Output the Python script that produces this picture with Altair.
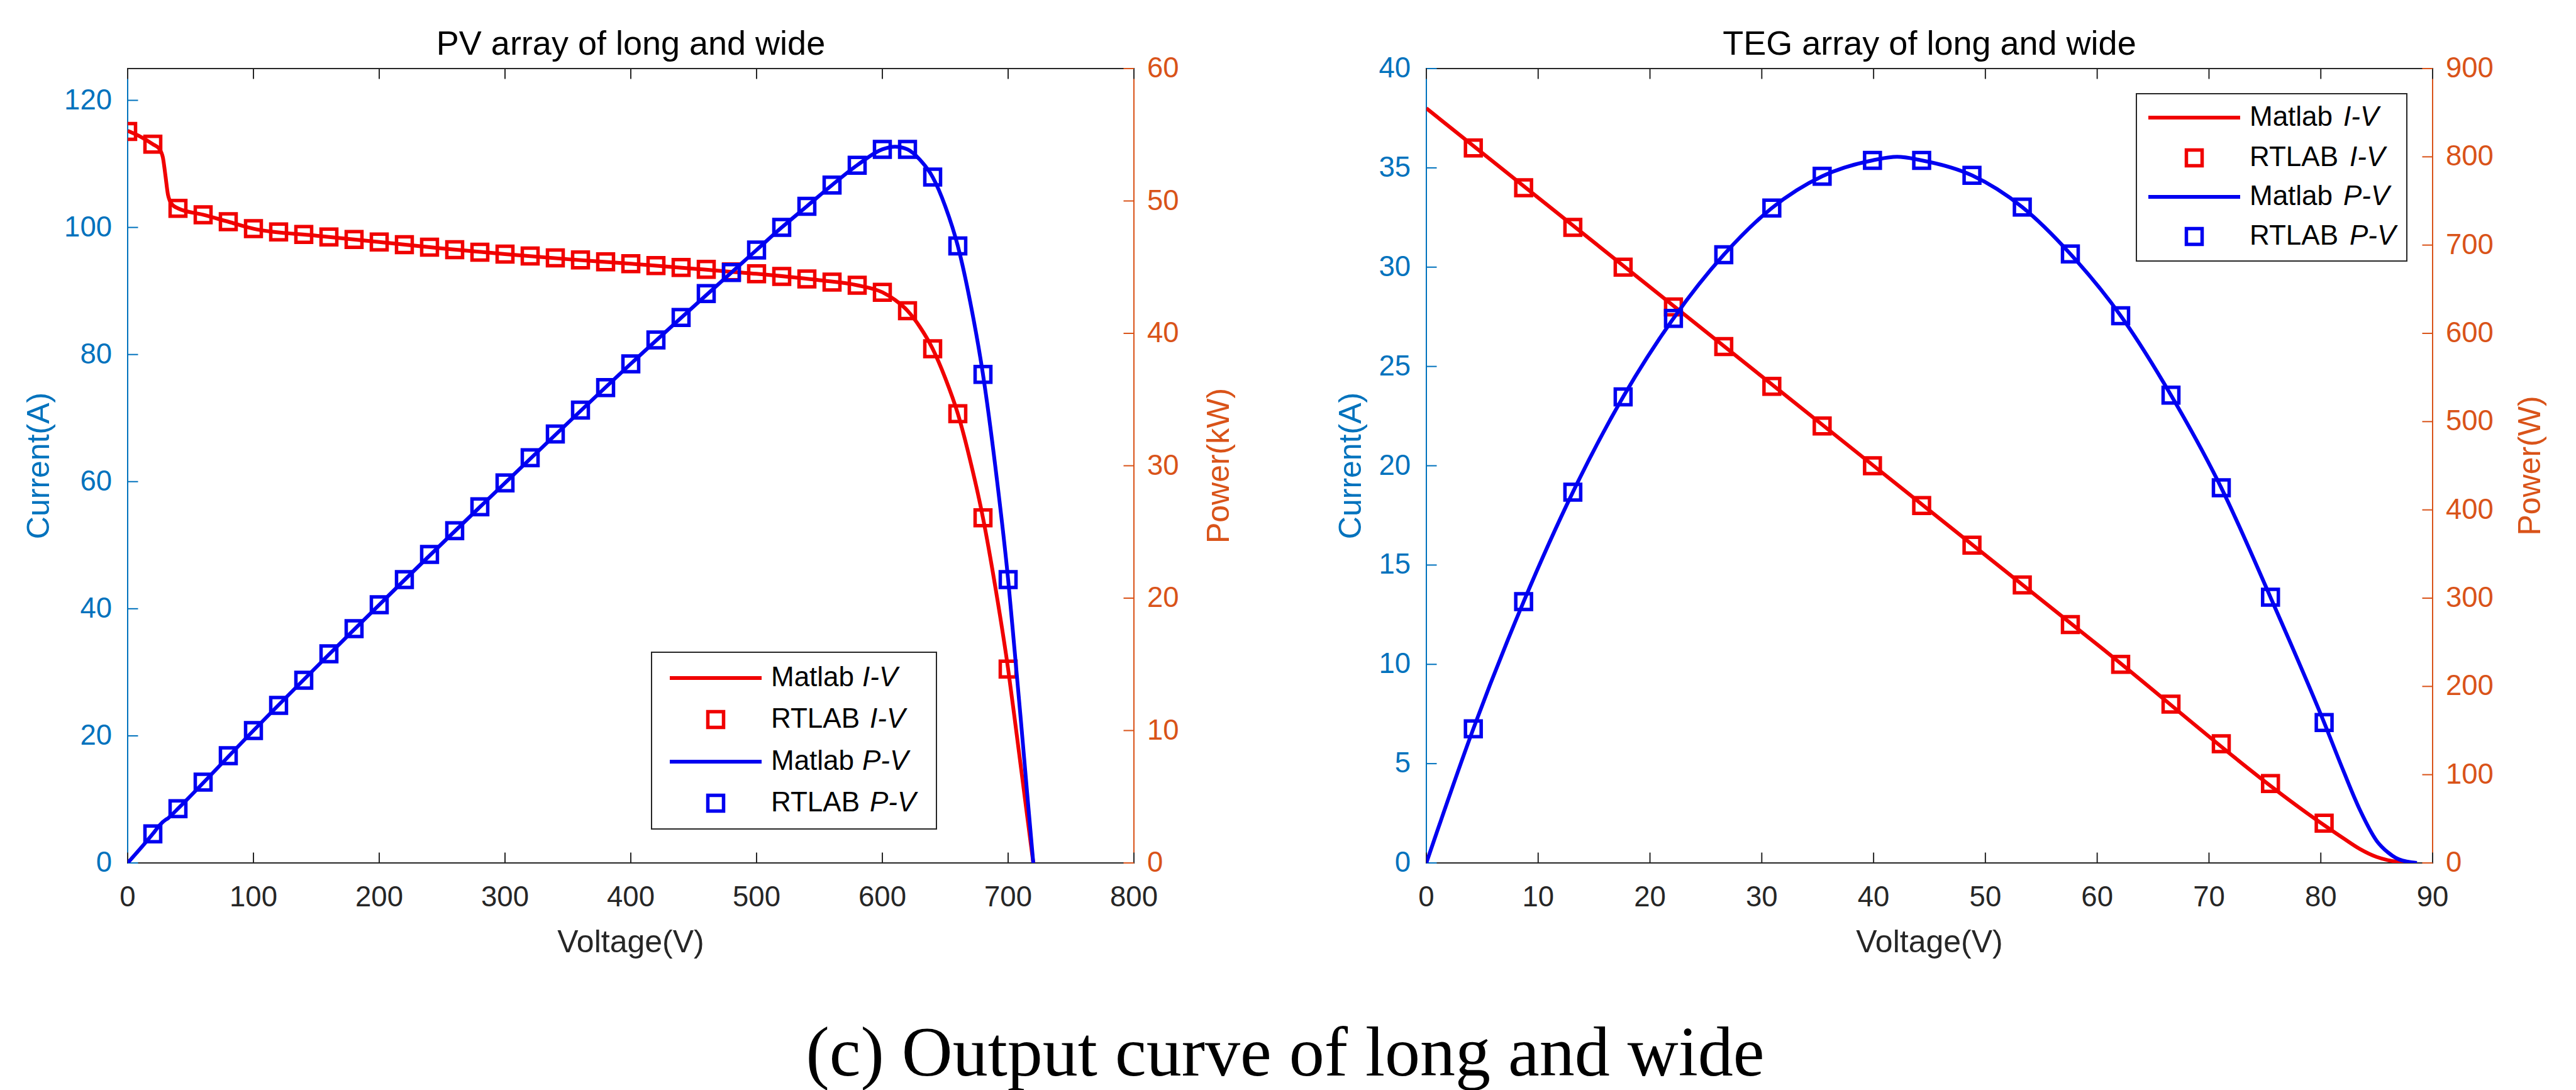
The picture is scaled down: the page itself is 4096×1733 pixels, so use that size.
import altair as alt
import pandas as pd

# ---------------- PV array of long and wide ----------------
# RT-LAB I-V samples
pv_iv_pts_v = [0, 20, 40, 60, 80, 100, 120, 140, 160, 180, 200, 220, 240, 260, 280, 300, 320, 340,
               360, 380, 400, 420, 440, 460, 480, 500, 520, 540, 560, 580, 600, 620, 640, 660, 680, 700]
pv_iv_pts_i = [115.1, 113.1, 103.0, 102.0, 100.9, 99.8, 99.3, 98.9, 98.5, 98.1, 97.7, 97.3, 96.9, 96.5,
               96.1, 95.8, 95.5, 95.2, 94.9, 94.6, 94.3, 94.0, 93.7, 93.4, 93.0, 92.7, 92.3, 91.9, 91.4,
               90.9, 89.8, 86.9, 80.9, 70.7, 54.3, 30.5]
# Matlab I-V curve
pv_iv_line_v = [0, 10, 20, 25, 28, 30, 32, 35, 40, 60, 80, 100, 150, 200, 250, 300, 350, 400, 450, 500,
                550, 580, 600, 610, 620, 630, 640, 650, 660, 670, 680, 690, 700, 705, 710, 715, 720]
pv_iv_line_i = [115.2, 114.3, 113.1, 112.4, 111.0, 108.2, 105.2, 103.7, 103.0, 102.0, 100.9, 99.8, 98.7,
                97.7, 96.7, 95.8, 95.0, 94.3, 93.5, 92.7, 91.7, 90.9, 89.8, 88.6, 86.9, 84.3, 80.9, 76.3,
                70.7, 63.2, 54.3, 43.2, 30.5, 23.0, 15.3, 7.6, 0.0]
# RT-LAB P-V samples (kW)
pv_pv_pts_v = [20, 40, 60, 80, 100, 120, 140, 160, 180, 200, 220, 240, 260, 280, 300, 320, 340, 360,
               380, 400, 420, 440, 460, 480, 500, 520, 540, 560, 580, 600, 620, 640, 660, 680, 700]
pv_pv_pts_p = [2.2, 4.1, 6.1, 8.1, 10.0, 11.9, 13.8, 15.8, 17.7, 19.5, 21.4, 23.3, 25.1, 26.9, 28.7,
               30.6, 32.4, 34.2, 35.9, 37.7, 39.5, 41.2, 43.0, 44.6, 46.3, 48.0, 49.6, 51.2, 52.7, 53.9,
               53.9, 51.8, 46.6, 36.9, 21.4]
# Matlab P-V curve (kW)
pv_pv_line_v = [0, 20, 25, 28, 30, 32, 35, 40, 100, 200, 300, 400, 500, 520, 540, 560, 580, 600, 610,
                620, 630, 640, 650, 660, 670, 680, 690, 700, 705, 710, 715, 720]
pv_pv_line_p = [0.0, 2.2, 2.8, 3.1, 3.25, 3.37, 3.63, 4.1, 10.0, 19.5, 28.7, 37.7, 46.3, 48.0, 49.6,
                51.2, 52.7, 53.9, 54.1, 53.9, 53.1, 51.8, 49.6, 46.6, 42.3, 36.9, 29.8, 21.4, 16.2,
                10.9, 5.4, 0.0]

# ---------------- TEG array of long and wide ----------------
teg_pts_v = [4.2, 8.7, 13.1, 17.6, 22.1, 26.6, 30.9, 35.4, 39.9, 44.3, 48.8, 53.3, 57.6, 62.1, 66.6,
             71.1, 75.5, 80.3]
teg_iv_pts_i = [36, 34, 32, 30, 28, 26, 24, 22, 20, 18, 16, 14, 12, 10, 8, 6, 4, 2]
teg_pv_pts_p = [152, 296, 420, 528, 617, 689, 742, 778, 796, 796, 779, 743, 690, 620, 530, 425, 301, 159]
teg_iv_line_v = [0, 20, 40, 60, 80.3, 82, 83.5, 85, 86, 87, 88.5]
teg_iv_line_i = [38.0, 29.0, 20.0, 11.0, 1.9, 1.25, 0.7, 0.3, 0.14, 0.05, 0.0]
teg_pv_line_v = [0, 4.2, 8.7, 13.1, 17.6, 22.1, 26.6, 30.9, 35.4, 39.9, 42.1, 44.3, 48.8, 53.3, 57.6,
                 62.1, 66.6, 71.1, 75.5, 80.3, 82, 83.5, 85, 86, 87, 88.6]
teg_pv_line_p = [0, 152, 296, 420, 528, 617, 689, 742, 778, 796, 800, 796, 779, 743, 690, 620, 530,
                 425, 301, 159, 105, 60, 25, 12, 4, 0]

# ---------------- axes ----------------
pv_x_ticks = [0, 100, 200, 300, 400, 500, 600, 700, 800]
pv_yl_ticks = [0, 20, 40, 60, 80, 100, 120]
pv_yr_ticks = [0, 10, 20, 30, 40, 50, 60]
teg_x_ticks = [0, 10, 20, 30, 40, 50, 60, 70, 80, 90]
teg_yl_ticks = [0, 5, 10, 15, 20, 25, 30, 35, 40]
teg_yr_ticks = [0, 100, 200, 300, 400, 500, 600, 700, 800, 900]

# legend entries
legend_source = ["Matlab", "RTLAB", "Matlab", "RTLAB"]
legend_curve = ["I-V", "I-V", "P-V", "P-V"]

caption = "(c) Output curve of long and wide"

# ---------------- styling ----------------
W, H = 1600, 1263
TICK = 16.5
INK = "#262626"
AX_BLUE = "#0072BD"
AX_ORANGE = "#D95319"
RED = "#F00000"
BLUE = "#0000F0"
FONT = "Liberation Sans"
LW = 6
SQ = 625
SW = 5.5
LEG_FS = 44


def sc(dom):
    return alt.Scale(domain=dom, nice=False, zero=False)


def legend_layers(lg):
    one = pd.DataFrame({"k": [0]})
    colors = [RED, RED, BLUE, BLUE]
    kinds = ["line", "square", "line", "square"]
    x0, x1, y0, y1 = lg["box"]
    out = [alt.Chart(one).mark_rect(fill="white", stroke=INK, strokeWidth=2).encode(
        x=alt.value(x0), x2=alt.value(x1), y=alt.value(y0), y2=alt.value(y1))]
    for r, (src, crv, col, kind) in enumerate(zip(legend_source, legend_curve, colors, kinds)):
        yy = lg["rows"][r]
        if kind == "line":
            out.append(alt.Chart(one).mark_rule(color=col, strokeWidth=LW).encode(
                x=alt.value(lg["line"][0]), x2=alt.value(lg["line"][1]), y=alt.value(yy)))
        else:
            out.append(alt.Chart(one).mark_point(shape="square", size=SQ, filled=False,
                                                 strokeWidth=SW, color=col, opacity=1).encode(
                x=alt.value(lg["sym"]), y=alt.value(yy)))
        out.append(alt.Chart(one).mark_text(font=FONT, fontSize=LEG_FS, align="left",
                                            baseline="middle", color="black").encode(
            x=alt.value(lg["text"]), y=alt.value(yy), text=alt.value(src)))
        out.append(alt.Chart(one).mark_text(font=FONT, fontSize=LEG_FS, align="left",
                                            baseline="middle", color="black",
                                            fontStyle="italic").encode(
            x=alt.value(lg["italic"][src]), y=alt.value(yy), text=alt.value(crv)))
    return out


def make_panel(p):
    xs, yls, yrs = sc(p["x_dom"]), sc(p["yl_dom"]), sc(p["yr_dom"])

    # the same axis definition goes on every layer that shares a scale
    x_axis = alt.Axis(values=p["x_ticks"], title="Voltage(V)", orient="bottom", domain=False,
                      labelColor=INK, labelPadding=33, titleColor=INK,
                      titleX=W / 2, titleY=127, titleAlign="center", titleBaseline="middle")
    yl_axis = alt.Axis(values=p["yl_ticks"], title="Current(A)", orient="left",
                       domainColor=AX_BLUE, labelColor=AX_BLUE, titleColor=AX_BLUE,
                       labelPadding=25, titleAngle=270, titleX=p["yl_title_x"], titleY=H / 2,
                       titleAlign="center", titleBaseline="middle")
    yr_axis = alt.Axis(values=p["yr_ticks"], title=p["yr_title"], orient="right",
                       domainColor=AX_ORANGE, labelColor=AX_ORANGE, titleColor=AX_ORANGE,
                       labelPadding=21, titleAngle=270, titleX=p["yr_title_x"], titleY=H / 2,
                       titleAlign="center", titleBaseline="middle")

    X = lambda f: alt.X(f, scale=xs, axis=x_axis)
    YL = lambda f: alt.Y(f, scale=yls, axis=yl_axis)
    YR = lambda f: alt.Y(f, scale=yrs, axis=yr_axis)

    iv_line = pd.DataFrame({"v": p["iv_line_v"], "i": p["iv_line_i"]})
    iv_pts = pd.DataFrame({"v": p["iv_pts_v"], "i": p["iv_pts_i"]})
    pv_line = pd.DataFrame({"v": p["pv_line_v"], "p": p["pv_line_p"]})
    pv_pts = pd.DataFrame({"v": p["pv_pts_v"], "p": p["pv_pts_p"]})

    red_line = alt.Chart(iv_line).mark_line(color=RED, strokeWidth=LW, interpolate="monotone",
                                            clip=True, strokeJoin="round").encode(
        x=X("v:Q"), y=YL("i:Q"))
    red_pts = alt.Chart(iv_pts).mark_point(shape="square", size=SQ, filled=False, strokeWidth=SW,
                                           color=RED, opacity=1, clip=True).encode(
        x=X("v:Q"), y=YL("i:Q"))
    left_ticks = alt.Chart(pd.DataFrame({"i": p["yl_ticks"]})).mark_rule(
        color=AX_BLUE, strokeWidth=2).encode(y=YL("i:Q"), x=alt.value(0), x2=alt.value(TICK))
    xt = pd.DataFrame({"v": p["x_ticks"]})
    bottom_ticks = alt.Chart(xt).mark_rule(color=INK, strokeWidth=2).encode(
        x=X("v:Q"), y=alt.value(H), y2=alt.value(H - TICK))
    top_ticks = alt.Chart(xt).mark_rule(color=INK, strokeWidth=2).encode(
        x=X("v:Q"), y=alt.value(0), y2=alt.value(TICK))

    blue_line = alt.Chart(pv_line).mark_line(color=BLUE, strokeWidth=LW, interpolate="monotone",
                                             clip=True, strokeJoin="round").encode(
        x=X("v:Q"), y=YR("p:Q"))
    blue_pts = alt.Chart(pv_pts).mark_point(shape="square", size=SQ, filled=False, strokeWidth=SW,
                                            color=BLUE, opacity=1, clip=True).encode(
        x=X("v:Q"), y=YR("p:Q"))
    right_ticks = alt.Chart(pd.DataFrame({"p": p["yr_ticks"]})).mark_rule(
        color=AX_ORANGE, strokeWidth=2).encode(y=YR("p:Q"), x=alt.value(W), x2=alt.value(W - TICK))

    left = alt.layer(red_line, red_pts, left_ticks, bottom_ticks, top_ticks)
    right = alt.layer(blue_line, blue_pts, right_ticks)
    return alt.layer(left, right, *legend_layers(p["legend"])).resolve_scale(
        y="independent").properties(
        width=W, height=H,
        title=alt.TitleParams(p["title"], font=FONT, fontSize=54, fontWeight="normal",
                              color="black", anchor="middle", frame="group", offset=-38,
                              baseline="middle"))


pv_panel = make_panel(dict(
    title="PV array of long and wide",
    x_dom=[0, 800], yl_dom=[0, 125], yr_dom=[0, 60],
    x_ticks=pv_x_ticks, yl_ticks=pv_yl_ticks, yr_ticks=pv_yr_ticks,
    yr_title="Power(kW)", yl_title_x=-140, yr_title_x=136,
    iv_line_v=pv_iv_line_v, iv_line_i=pv_iv_line_i, iv_pts_v=pv_iv_pts_v, iv_pts_i=pv_iv_pts_i,
    pv_line_v=pv_pv_line_v, pv_line_p=pv_pv_line_p, pv_pts_v=pv_pv_pts_v, pv_pts_p=pv_pv_pts_p,
    legend=dict(box=(833, 1286, 928, 1209), rows=[969, 1035, 1102, 1168], line=(862, 1008),
                sym=935, text=1023, italic={"Matlab": 1168, "RTLAB": 1180}),
))

teg_panel = make_panel(dict(
    title="TEG array of long and wide",
    x_dom=[0, 90], yl_dom=[0, 40], yr_dom=[0, 900],
    x_ticks=teg_x_ticks, yl_ticks=teg_yl_ticks, yr_ticks=teg_yr_ticks,
    yr_title="Power(W)", yl_title_x=-119, yr_title_x=156,
    iv_line_v=teg_iv_line_v, iv_line_i=teg_iv_line_i, iv_pts_v=teg_pts_v, iv_pts_i=teg_iv_pts_i,
    pv_line_v=teg_pv_line_v, pv_line_p=teg_pv_line_p, pv_pts_v=teg_pts_v, pv_pts_p=teg_pv_pts_p,
    legend=dict(box=(1129, 1559, 40, 306), rows=[78, 142, 204, 267], line=(1148, 1294),
                sym=1221, text=1309, italic={"Matlab": 1458, "RTLAB": 1468}),
))

chart = alt.hconcat(pv_panel, teg_panel, spacing=465, bounds="flush").properties(
    title=alt.TitleParams(caption, orient="bottom", anchor="middle", font="Liberation Serif",
                          fontSize=112, fontWeight="normal", color="black", offset=151,
                          baseline="middle"),
    padding={"left": 37, "top": 43, "right": 5, "bottom": 12},
).configure_view(
    stroke=INK, strokeWidth=2
).configure_axis(
    labelFont=FONT, labelFontSize=45.5, titleFont=FONT, titleFontSize=50,
    titleFontWeight="normal", grid=False, ticks=False, tickSize=0, labelFlush=False,
    labelOverlap=False, domainWidth=2, translate=0
)

chart.save("out.html", embed_options={"renderer": "svg", "actions": False})
